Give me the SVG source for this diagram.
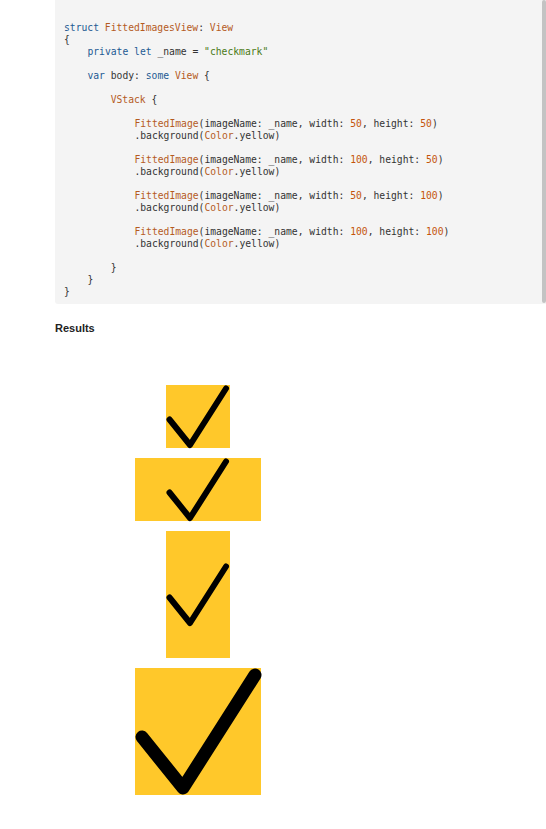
<svg xmlns="http://www.w3.org/2000/svg" width="546" height="829" viewBox="0 0 546 829">
<defs>
<style>
.code{font-family:"DejaVu Sans Mono","Liberation Mono",monospace;font-size:9.7px;fill:#333333;}
.kw{fill:#1d5a93;}
.ty{fill:#b45b1e;}
.nu{fill:#c4540b;}
.st{fill:#4b7a16;}
.hdr{font-family:"Liberation Sans",Arial,sans-serif;font-size:11px;font-weight:bold;fill:#222222;}
.box{fill:#ffc82a;}
.chk{fill:none;stroke:#000000;stroke-linecap:round;stroke-linejoin:round;}
</style>
<path id="check" d="M3.5,34.5 L24,60 L60,3.5"/>
</defs>
<rect width="546" height="829" fill="#ffffff"/>
<g id="code-panel">
<path d="M55,0 H546 V304 H58 Q55,304 55,301 Z" fill="#f4f4f4"/>
<rect x="542" y="0" width="4" height="303" rx="2" fill="#c3c3c3"/>
<g class="code">
<text x="64" y="30.7"><tspan class="kw">struct</tspan> <tspan class="ty">FittedImagesView</tspan>: <tspan class="ty">View</tspan></text>
<text x="64" y="42.7">{</text>
<text x="87.4" y="54.7"><tspan class="kw">private</tspan> <tspan class="kw">let</tspan> _name = <tspan class="st">"checkmark"</tspan></text>
<text x="87.4" y="78.7"><tspan class="kw">var</tspan> body: <tspan class="kw">some</tspan> <tspan class="ty">View</tspan> {</text>
<text x="110.7" y="102.7"><tspan class="ty">VStack</tspan> {</text>
<text x="134.4" y="126.7"><tspan class="ty">FittedImage</tspan>(imageName: _name, width: <tspan class="nu">50</tspan>, height: <tspan class="nu">50</tspan>)</text>
<text x="134.4" y="138.7">.background(<tspan class="ty">Color</tspan>.yellow)</text>
<text x="134.4" y="162.7"><tspan class="ty">FittedImage</tspan>(imageName: _name, width: <tspan class="nu">100</tspan>, height: <tspan class="nu">50</tspan>)</text>
<text x="134.4" y="174.7">.background(<tspan class="ty">Color</tspan>.yellow)</text>
<text x="134.4" y="198.7"><tspan class="ty">FittedImage</tspan>(imageName: _name, width: <tspan class="nu">50</tspan>, height: <tspan class="nu">100</tspan>)</text>
<text x="134.4" y="210.7">.background(<tspan class="ty">Color</tspan>.yellow)</text>
<text x="134.4" y="234.7"><tspan class="ty">FittedImage</tspan>(imageName: _name, width: <tspan class="nu">100</tspan>, height: <tspan class="nu">100</tspan>)</text>
<text x="134.4" y="246.7">.background(<tspan class="ty">Color</tspan>.yellow)</text>
<text x="110.7" y="270.7">}</text>
<text x="87.4" y="282.7">}</text>
<text x="64" y="294.7">}</text>
</g>
</g>
<g id="results-heading">
<text class="hdr" x="55" y="331.7">Results</text>
</g>
<g id="image-50x50">
<rect class="box" x="166" y="385" width="64" height="63"/>
<use href="#check" class="chk" stroke-width="6" transform="translate(166,385)"/>
</g>
<g id="image-100x50">
<rect class="box" x="135" y="458" width="126" height="63"/>
<use href="#check" class="chk" stroke-width="6" transform="translate(166,458)"/>
</g>
<g id="image-50x100">
<rect class="box" x="166" y="531" width="64" height="127"/>
<use href="#check" class="chk" stroke-width="6" transform="translate(166,563)"/>
</g>
<g id="image-100x100">
<rect class="box" x="135" y="668" width="126" height="127"/>
<use href="#check" class="chk" stroke-width="6.5" transform="translate(135,668) scale(2)"/>
</g>
<g id="connectors"/>
</svg>
